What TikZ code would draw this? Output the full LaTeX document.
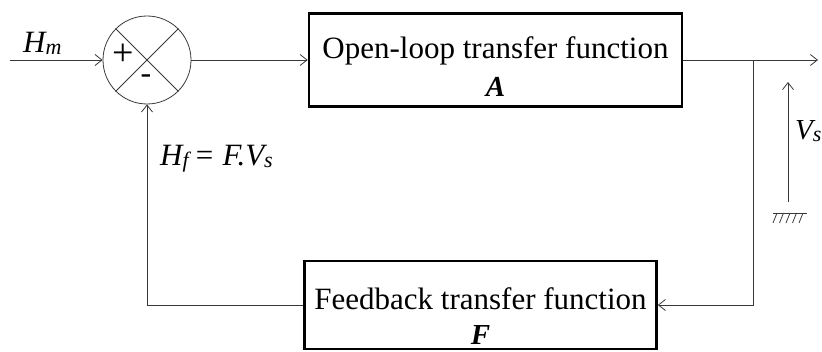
\documentclass[tikz,border=0pt]{standalone}
\usepackage{fontspec}
\setmainfont{Liberation Serif}
\usetikzlibrary{arrows.meta, positioning, calc}

% smaller letter set next to a symbol
\newcommand{\lowsub}[1]{\raisebox{-2pt}{\fontsize{22}{22}\selectfont #1}}
% bold italic block gains
\newcommand{\gainfont}{\fontsize{29}{30}\selectfont\bfseries\itshape}

\begin{document}
\begin{tikzpicture}[x=1pt, y=-1pt,
    line/.style={draw=black!78, line width=0.8pt},
    sig/.style={line, -{Straight Barb[length=7pt, width=11pt, line width=0.8pt]}},
    block/.style={draw, line width=2.6pt, align=center, inner sep=0pt,
        font=\fontsize{31}{38}\selectfont},
    lbl/.style={font=\fontsize{31}{32}\selectfont\itshape, inner sep=0pt}]
    \useasboundingbox (0,0) rectangle (822,352);

    % Summing junction
    \node[circle, line, minimum size=88pt, inner sep=0pt] (sum) at (147,60) {};
    \draw[line] (sum.north west) -- (sum.south east);
    \draw[line] (sum.north east) -- (sum.south west);
    \node[font=\fontsize{38}{38}\selectfont] (plus) at (123,55) {+};
    \node[font=\fontsize{32}{32}\selectfont] (minus) at (146,79) {-};

    % Blocks
    \node[block, minimum width=373pt, minimum height=93pt, text height=74pt] (openloop) at (495.5,60)
        {Open-loop transfer function\\ {\gainfont A}};
    \node[block, minimum width=352pt, minimum height=88pt, text height=79pt] (feedback) at (480.5,305)
        {Feedback transfer function\\[-3pt] {\gainfont F}};

    % Signal points
    \coordinate (in) at (10,60);
    \coordinate (branch) at (753,60);
    \coordinate (out) at (818,60);
    \coordinate (vbot) at (788,202);
    \coordinate (vtop) at (788,82);

    % Connections
    \draw[sig] (in) -- (sum.west);
    \draw[sig] (sum.east) -- (openloop.west);
    \draw[sig] (openloop.east) -- (out);
    \draw[sig] (branch) |- (feedback.east);
    \draw[sig] (feedback.west) -| (sum.south);

    % Output voltage and ground
    \draw[sig] (vbot) -- (vtop);
    \draw[line] (773,213) -- (807,213);
    \foreach \x in {777,783.5,790,796.5,803}
        \draw[line] (\x,213) -- ++(-4,10);

    % Labels
    \node[lbl, anchor=base west] (hm) at (23,53) {H\lowsub{m}};
    \node[lbl, anchor=base west] (hf) at (160,166) {H\lowsub{f}\,= F.V\lowsub{s}};
    \node[lbl, anchor=base west, font=\fontsize{29}{30}\selectfont\itshape] (vs) at (795,140) {V\lowsub{s}};
\end{tikzpicture}
\end{document}
